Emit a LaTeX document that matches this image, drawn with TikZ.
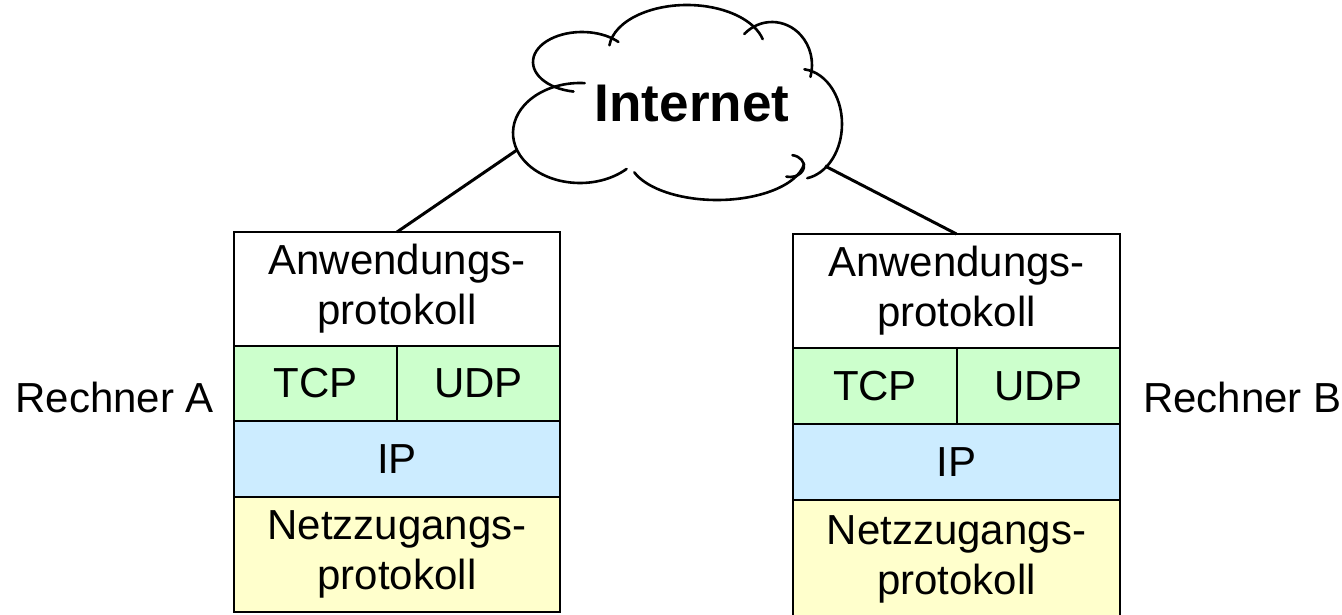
\documentclass[tikz,border=0pt]{standalone}
\usepackage{fontspec}
\setmainfont{Liberation Sans}
\definecolor{tcpgreen}{HTML}{CCFFCC}
\definecolor{ipblue}{HTML}{CCECFF}
\definecolor{netyellow}{HTML}{FFFFCC}
\begin{document}
\begin{tikzpicture}[x=1pt,y=-1pt,
  layer/.style={draw, line width=2pt, inner sep=0pt, outer sep=0pt, anchor=north west,
    align=center, font=\fontsize{42}{50}\selectfont},
  conn/.style={line width=3pt},
  lobe/.style={line width=2.6pt, line cap=round}]
\useasboundingbox (0,0) rectangle (1342,615);
% cloud outline: overlapping lobes
\draw[lobe] (582,62)  ++(100:49 and 30) arc[start angle=100, end angle=318, x radius=49, y radius=30];
\draw[lobe] (687,50)  ++(186:78 and 45) arc[start angle=186, end angle=346, x radius=78, y radius=45];
\draw[lobe] (772,65)  ++(226:40 and 43) arc[start angle=226, end angle=376, x radius=40, y radius=43];
\draw[lobe] (800,124) ++(276:42 and 55) arc[start angle=276, end angle=440, x radius=42, y radius=55];
\draw[lobe] (790,166) ++(-80:14 and 11) arc[start angle=-80, end angle=105, x radius=14, y radius=11];
\draw[lobe] (717,158) ++(8:88 and 42) arc[start angle=8, end angle=160, x radius=88, y radius=42];
\draw[lobe] (580,133) ++(46:67 and 50) arc[start angle=46, end angle=274, x radius=67, y radius=50];
\node[inner sep=0pt, font=\fontsize{53}{60}\selectfont\bfseries] (net) at (692,104) {Internet};
\coordinate (clA) at (517,150);
\coordinate (clB) at (825,166);
% Rechner A
\node[layer, fill=white, minimum width=326pt, minimum height=114pt] (appA) at (234,232) {Anwendungs-\\protokoll};
\node[layer, fill=tcpgreen, minimum width=163pt, minimum height=75pt] (tcpA) at (234,346) {TCP};
\node[layer, fill=tcpgreen, minimum width=163pt, minimum height=75pt] (udpA) at (397,346) {UDP};
\node[layer, fill=ipblue, minimum width=326pt, minimum height=76pt] (ipA) at (234,421) {IP};
\node[layer, fill=netyellow, minimum width=326pt, minimum height=115pt] (nzA) at (234,497) {Netzzugangs-\\protokoll};
% Rechner B
\node[layer, fill=white, minimum width=327pt, minimum height=114pt] (appB) at (793,234) {Anwendungs-\\protokoll};
\node[layer, fill=tcpgreen, minimum width=164pt, minimum height=76pt] (tcpB) at (793,348) {TCP};
\node[layer, fill=tcpgreen, minimum width=163pt, minimum height=76pt] (udpB) at (957,348) {UDP};
\node[layer, fill=ipblue, minimum width=327pt, minimum height=76pt] (ipB) at (793,424) {IP};
\node[layer, fill=netyellow, minimum width=327pt, minimum height=118pt] (nzB) at (793,500) {Netzzugangs-\\protokoll};
% labels
\node[font=\fontsize{42}{50}\selectfont, anchor=east, inner sep=0pt] (labA) at (214,397) {Rechner A};
\node[font=\fontsize{42}{50}\selectfont, anchor=west, inner sep=0pt] (labB) at (1143,397) {Rechner B};
% connectors
\draw[conn] (clA) -- (appA.north);
\draw[conn] (clB) -- (appB.north);
\end{tikzpicture}
\end{document}
